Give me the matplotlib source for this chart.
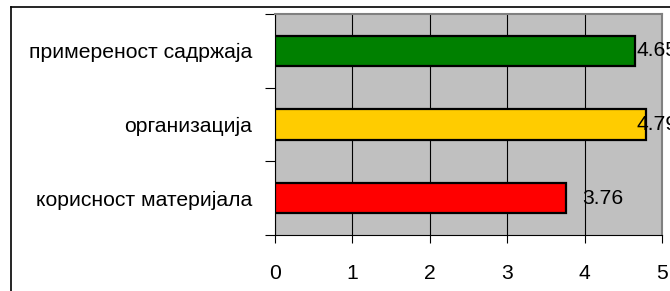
import matplotlib
matplotlib.use('Agg')
import matplotlib.pyplot as plt
from matplotlib.lines import Line2D

plt.rcParams['font.family'] = ['Liberation Sans', 'DejaVu Sans']

# ── ПОДАЦИ ────────────────────────────────────────────
categories = ["корисност материјала", "организација", "примереност садржаја"]
values     = [3.76, 4.79, 4.65]
colors     = ["#FF0000", "#FFCC00", "#008000"]
xticks     = [0, 1, 2, 3, 4, 5]

FS = 15.2

fig = plt.figure(figsize=(6.7, 2.91), dpi=100)
ax = fig.add_axes([275/670, 56/291, 387/670, 221/291])
ax.set_facecolor("#C0C0C0")

pos = range(len(categories))
ax.barh(pos, values, height=0.41, color=colors, edgecolor="black",
        linewidth=1.6, zorder=3)

# вредности поред стубова (Excel их гура унутра уз десну ивицу)
for p, v in zip(pos, values):
    ax.text(min(v + 0.21, 4.665), p, f"{v:.2f}", va="center", ha="left",
            fontsize=FS, zorder=4, clip_on=False)

ax.set_xlim(0, 5)
ax.set_ylim(-0.5, 2.5)
ax.set_xticks(xticks)
ax.set_xticklabels([str(t) for t in xticks], fontsize=FS)
ax.xaxis.grid(True, color="black", linewidth=0.8, zorder=1)
ax.tick_params(axis="x", direction="out", length=6, width=0.8, pad=15)

ax.set_yticks([-0.5, 0.5, 1.5, 2.5])
ax.set_yticklabels([])
ax.set_yticks(list(pos), minor=True)
ax.set_yticklabels(categories, minor=True, fontsize=FS)
ax.tick_params(axis="y", which="major", direction="out", length=7, width=0.8)
ax.tick_params(axis="y", which="minor", length=0, pad=16.5)

for s in ["top", "right"]:
    ax.spines[s].set_color("#808080")
    ax.spines[s].set_linewidth(1.5)
for s in ["left", "bottom"]:
    ax.spines[s].set_color("black")
    ax.spines[s].set_linewidth(0.8)

# оквир графикона
fig.add_artist(Line2D([11/670, 1.0], [1 - 7/291, 1 - 7/291],
                      transform=fig.transFigure, color="black", linewidth=1.2))
fig.add_artist(Line2D([11/670, 11/670], [0.0, 1 - 7/291],
                      transform=fig.transFigure, color="black", linewidth=1.2))

fig.savefig("out.png", dpi=100)
